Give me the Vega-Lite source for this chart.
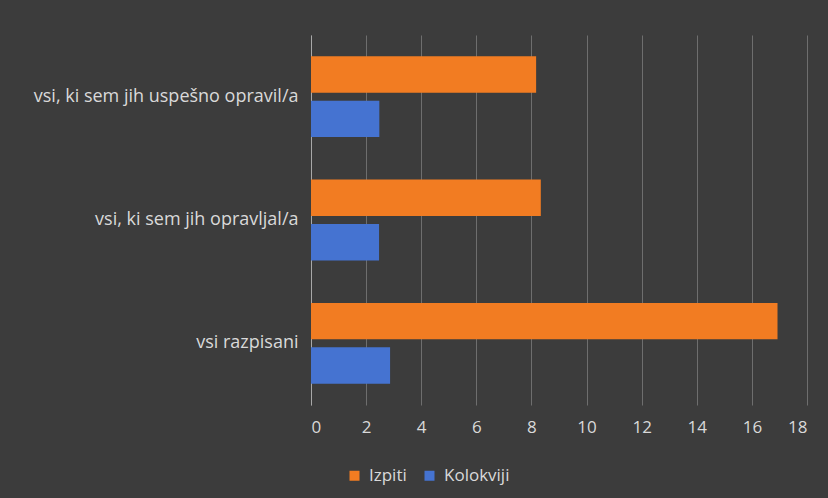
{
  "$schema": "https://vega.github.io/schema/vega-lite/v6.json",
  "width": 496,
  "height": 370,
  "autosize": {"type": "none"},
  "padding": {"left": 311, "top": 35, "right": 21, "bottom": 93},
  "background": "#3c3c3c",
  "data": {
    "values": [
      {"kategorija": "vsi, ki sem jih uspešno opravil/a", "serija": "Izpiti", "vrednost": 8.17},
      {"kategorija": "vsi, ki sem jih uspešno opravil/a", "serija": "Kolokviji", "vrednost": 2.48},
      {"kategorija": "vsi, ki sem jih opravljal/a", "serija": "Izpiti", "vrednost": 8.34},
      {"kategorija": "vsi, ki sem jih opravljal/a", "serija": "Kolokviji", "vrednost": 2.47},
      {"kategorija": "vsi razpisani", "serija": "Izpiti", "vrednost": 16.93},
      {"kategorija": "vsi razpisani", "serija": "Kolokviji", "vrednost": 2.87}
    ]
  },
  "mark": {"type": "bar"},
  "encoding": {
    "y": {
      "field": "kategorija",
      "type": "nominal",
      "sort": ["vsi, ki sem jih uspešno opravil/a", "vsi, ki sem jih opravljal/a", "vsi razpisani"],
      "scale": {"paddingInner": 0.344, "paddingOuter": 0.172},
      "axis": {
        "title": null,
        "labelColor": "#d9d9d9",
        "labelFontSize": 18,
        "labelFont": "Open Sans",
        "labelPadding": 13,
        "labelLimit": 400,
        "ticks": false,
        "domainColor": "#a8a8a8",
        "domainWidth": 1
      }
    },
    "x": {
      "field": "vrednost",
      "type": "quantitative",
      "scale": {"domain": [0, 18], "nice": false},
      "axis": {
        "title": null,
        "values": [0, 2, 4, 6, 8, 10, 12, 14, 16, 18],
        "grid": true,
        "gridColor": "#6e6e6e",
        "gridWidth": 1,
        "domain": false,
        "ticks": false,
        "labelColor": "#d9d9d9",
        "labelFontSize": 17,
        "labelFont": "Open Sans",
        "labelPadding": 14
      }
    },
    "yOffset": {
      "field": "serija",
      "sort": ["Izpiti", "Kolokviji"],
      "scale": {"paddingInner": 0.18, "paddingOuter": 0}
    },
    "color": {
      "field": "serija",
      "type": "nominal",
      "scale": {"domain": ["Izpiti", "Kolokviji"], "range": ["#f27c22", "#4573d1"]},
      "legend": {
        "title": null,
        "orient": "none",
        "direction": "horizontal",
        "legendX": 35,
        "legendY": 432,
        "symbolType": "square",
        "symbolSize": 100,
        "symbolStrokeWidth": 0,
        "labelColor": "#d9d9d9",
        "labelFontSize": 17,
        "labelFont": "Open Sans",
        "labelOffset": 6,
        "columnPadding": 14
      }
    }
  },
  "config": {"view": {"stroke": null}}
}
